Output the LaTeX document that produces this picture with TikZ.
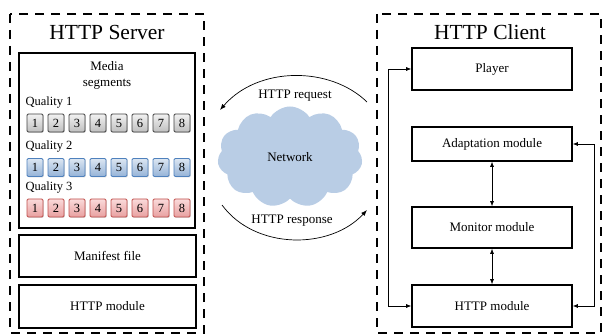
\documentclass[tikz,border=0pt]{standalone}
\usepackage{fontspec}
\setmainfont{Liberation Serif}
\usetikzlibrary{arrows.meta,shapes.symbols,shadows}
\definecolor{cloudblue}{HTML}{B9CDE5}
\definecolor{gtop}{HTML}{F2F2F2}
\definecolor{gbot}{HTML}{BFBFBF}
\definecolor{gdraw}{HTML}{404040}
\definecolor{btop}{HTML}{DCE6F2}
\definecolor{bbot}{HTML}{95B3D7}
\definecolor{bdraw}{HTML}{4F81BD}
\definecolor{rtop}{HTML}{FADADA}
\definecolor{rbot}{HTML}{E8A0A0}
\definecolor{rdraw}{HTML}{C0504D}
\tikzset{
  outerbox/.style={draw, line width=2pt, dash pattern=on 9pt off 7pt},
  modbox/.style={draw, line width=1.6pt, minimum width=#1, inner sep=0pt, font=\fontsize{13}{15}\selectfont},
  title/.style={font=\fontsize{21.5}{24}\selectfont},
  lbl/.style={font=\fontsize{13}{15}\selectfont},
  qlbl/.style={font=\fontsize{12.5}{14}\selectfont, anchor=west},
  seg/.style={draw=#1draw, line width=0.8pt, rounded corners=1.2pt, minimum width=16pt, minimum height=18pt, inner sep=0pt,
    top color=#1top, bottom color=#1bot, font=\fontsize{12.5}{14}\selectfont,
    drop shadow={shadow xshift=0.8pt, shadow yshift=-0.8pt, opacity=0.3}},
  conn/.style={line width=0.6pt, {Latex[length=5pt,width=4pt]}-{Latex[length=5pt,width=4pt]}},
  arc/.style={line width=0.7pt, -{Latex[length=6pt,width=4.5pt]}},
}
\begin{document}
\begin{tikzpicture}[x=1pt,y=-1pt]
\useasboundingbox (0,0) rectangle (604,336);
% outer dashed boxes
\draw[outerbox] (10,14) rectangle (204,333);
\draw[outerbox] (377,14) rectangle (601,333);
\node[title] (stitle) at (107,32) {HTTP Server};
\node[title] (ctitle) at (490,32) {HTTP Client};
% server
\node[modbox=176pt, minimum height=175pt] (media) at (107,140.5) {};
\node[lbl, align=center, font=\fontsize{13}{15.5}\selectfont] (mtext) at (107,75.5) {Media\\segments};
\node[qlbl] (q1) at (22,103) {Quality 1};
\node[qlbl] (q2) at (22,147) {Quality 2};
\node[qlbl] (q3) at (22,188) {Quality 3};
\foreach \i in {1,...,8} {
  \node[seg=g] (a\i) at ({35+(\i-1)*21},123) {\i};
  \node[seg=b] (b\i) at ({35+(\i-1)*21},167.5) {\i};
  \node[seg=r] (c\i) at ({35+(\i-1)*21},208) {\i};
}
\node[modbox=177pt, minimum height=42pt] (manifest) at (107.5,256) {Manifest file};
\node[modbox=177pt, minimum height=43pt] (shttp) at (107.5,306.5) {HTTP module};
% network
\node[cloud, cloud puffs=11, cloud puff arc=115, aspect=1.45, minimum width=145pt, minimum height=101pt, fill=cloudblue, inner sep=0pt, lbl] (net) at (290,157) {Network};
\coordinate (reqs) at (367,102);
\coordinate (reqe) at (220,110);
\coordinate (ress) at (222,205);
\coordinate (rese) at (367,210);
\draw[arc] (reqs) .. controls (330,66) and (258,66) .. (reqe);
\draw[arc] (ress) .. controls (255,250) and (330,250) .. (rese);
\node[lbl] (reql) at (295,96) {HTTP request};
\node[lbl] (resl) at (292,221) {HTTP response};
% client
\node[modbox=160pt, minimum height=42pt] (player) at (492,69) {Player};
\node[modbox=160pt, minimum height=34pt] (adapt) at (492,144) {Adaptation module};
\node[modbox=160pt, minimum height=41pt] (monitor) at (492,227.5) {Monitor module};
\node[modbox=160pt, minimum height=42pt] (chttp) at (492,306) {HTTP module};
\draw[conn] (adapt.south) -- (monitor.north);
\draw[conn] (monitor.south) -- (chttp.north);
\draw[conn] (player.west) -- ++(-23,0) |- (chttp.west);
\draw[conn] (adapt.east) -- ++(21,0) |- (chttp.east);
\end{tikzpicture}
\end{document}
